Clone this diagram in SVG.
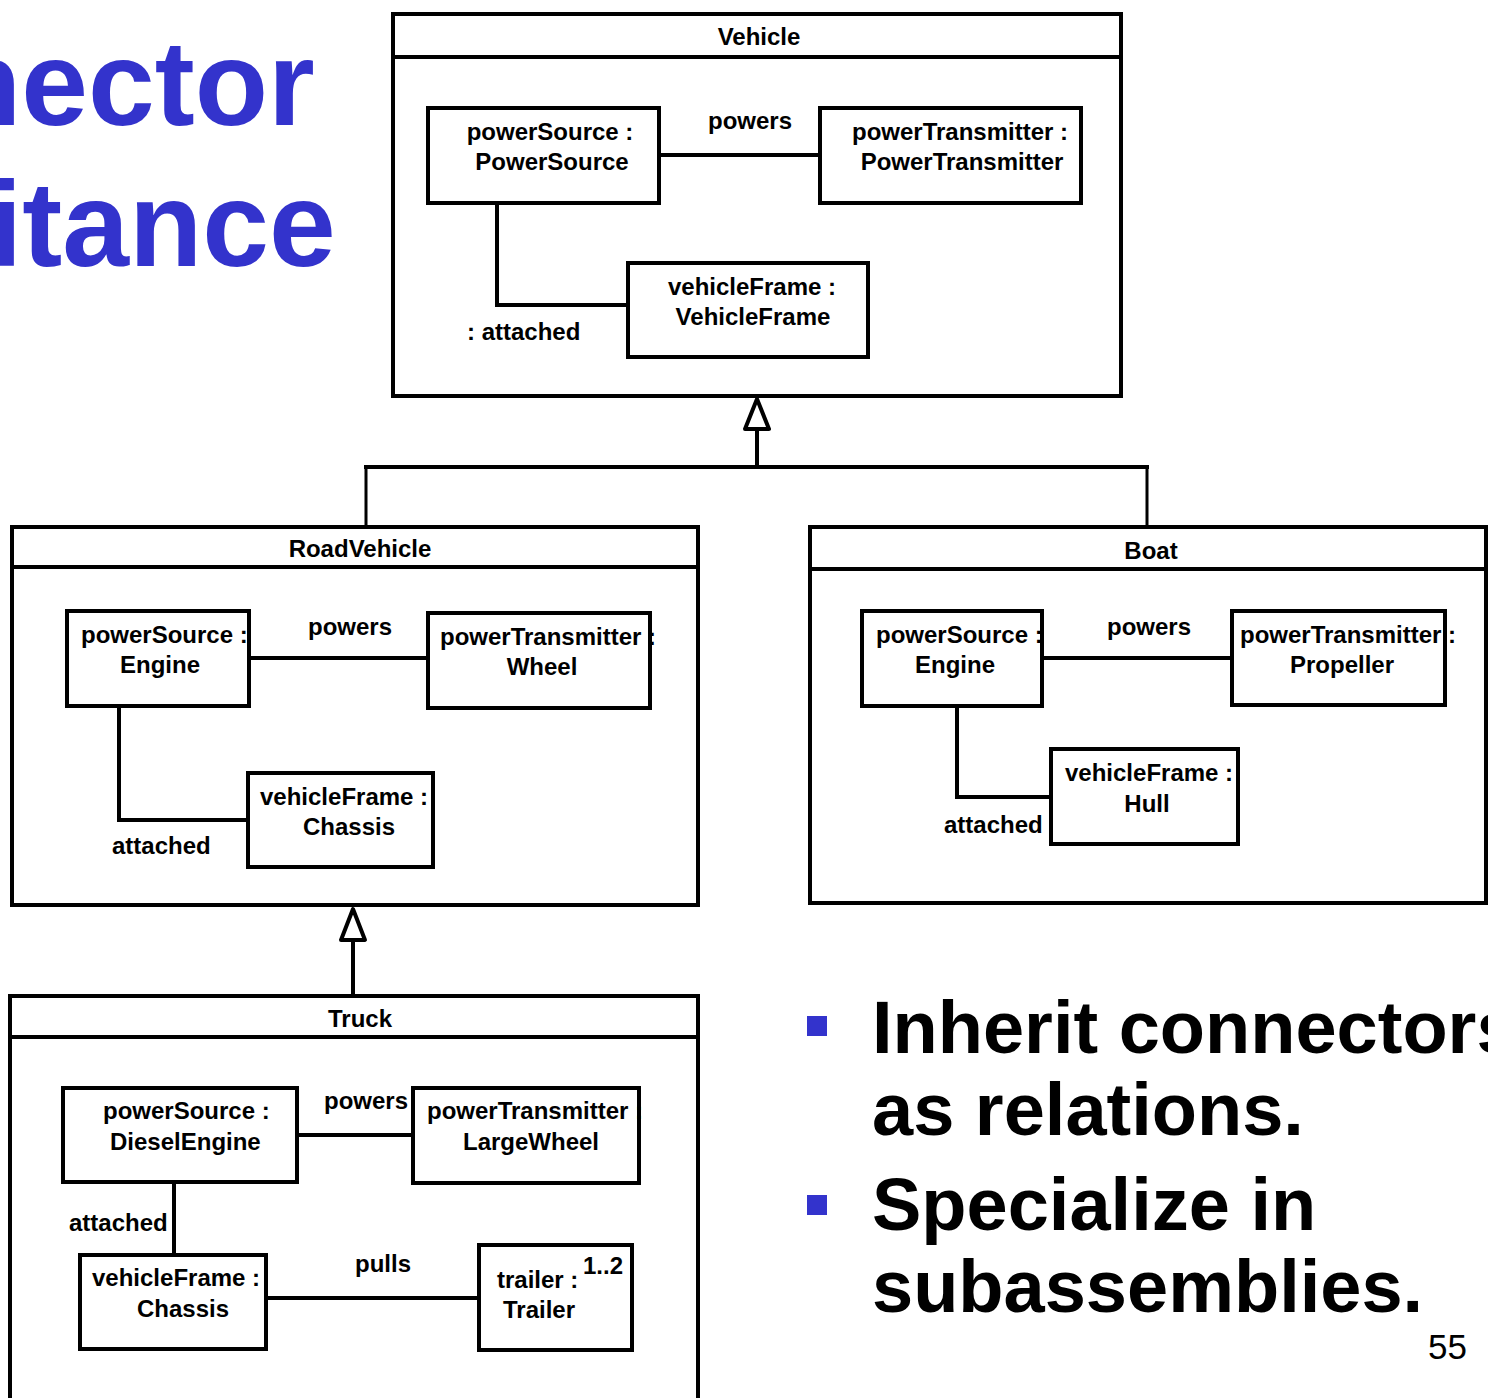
<svg xmlns="http://www.w3.org/2000/svg" width="1488" height="1398" viewBox="0 0 1488 1398">
  <style>
    .title { font-family: "Liberation Sans", Arial, sans-serif; font-weight: bold; font-size: 120px; fill: #3333CC; }
    .lbl { font-family: "Liberation Sans", Arial, sans-serif; font-weight: bold; font-size: 24px; fill: #000; }
    .mid { text-anchor: middle; }
    .frame { fill: #fff; stroke: #000; stroke-width: 4; }
    .part { fill: #fff; stroke: #000; stroke-width: 4; }
    .sep { stroke: #000; stroke-width: 4; }
    .conn { fill: none; stroke: #000; stroke-width: 4; }
    .tree { fill: none; stroke: #000; stroke-width: 3; }
    .gen { fill: #fff; stroke: #000; stroke-width: 4; stroke-linejoin: round; }
    .bullet { font-family: "Liberation Sans", Arial, sans-serif; font-weight: bold; font-size: 74px; fill: #000; }
    .pg { font-family: "Liberation Sans", Arial, sans-serif; font-size: 35px; fill: #000; }
  </style>
  <rect width="1488" height="1398" fill="#fff"/>

  <!-- slide heading (partly off the left edge) -->
  <g id="heading">
    <text class="title" x="-52" y="125">nector</text>
    <text class="title" x="-11" y="266">itance</text>
  </g>

  <!-- Vehicle -->
  <g id="vehicle">
    <rect class="frame" x="393" y="14" width="728" height="382"/>
    <line class="sep" x1="393" y1="57" x2="1121" y2="57"/>
    <text class="lbl mid" x="759" y="45">Vehicle</text>
  </g>
  <g id="vehicle-powerSource">
    <rect class="part" x="428" y="108" width="231" height="95"/>
    <text class="lbl mid" x="550" y="140">powerSource :</text>
    <text class="lbl mid" x="552" y="170">PowerSource</text>
  </g>
  <g id="vehicle-powerTransmitter">
    <rect class="part" x="820" y="108" width="261" height="95"/>
    <text class="lbl mid" x="960" y="140">powerTransmitter :</text>
    <text class="lbl mid" x="962" y="170">PowerTransmitter</text>
  </g>
  <g id="vehicle-vehicleFrame">
    <rect class="part" x="628" y="263" width="240" height="94"/>
    <text class="lbl mid" x="752" y="295">vehicleFrame :</text>
    <text class="lbl mid" x="753" y="325">VehicleFrame</text>
  </g>

  <!-- RoadVehicle -->
  <g id="roadVehicle">
    <rect class="frame" x="12" y="527" width="686" height="378"/>
    <line class="sep" x1="12" y1="567" x2="698" y2="567"/>
    <text class="lbl mid" x="360" y="557">RoadVehicle</text>
  </g>
  <g id="road-powerSource">
    <rect class="part" x="67" y="611" width="182" height="95"/>
    <text class="lbl" x="81" y="643">powerSource :</text>
    <text class="lbl mid" x="160" y="673">Engine</text>
  </g>
  <g id="road-powerTransmitter">
    <rect class="part" x="428" y="613" width="222" height="95"/>
    <text class="lbl" x="440" y="645">powerTransmitter :</text>
    <text class="lbl mid" x="542" y="675">Wheel</text>
  </g>
  <g id="road-vehicleFrame">
    <rect class="part" x="248" y="773" width="185" height="94"/>
    <text class="lbl" x="260" y="805">vehicleFrame :</text>
    <text class="lbl mid" x="349" y="835">Chassis</text>
  </g>

  <!-- Boat -->
  <g id="boat">
    <rect class="frame" x="810" y="527" width="676" height="376"/>
    <line class="sep" x1="810" y1="569" x2="1486" y2="569"/>
    <text class="lbl mid" x="1151" y="559">Boat</text>
  </g>
  <g id="boat-powerSource">
    <rect class="part" x="862" y="611" width="180" height="95"/>
    <text class="lbl" x="876" y="643">powerSource :</text>
    <text class="lbl mid" x="955" y="673">Engine</text>
  </g>
  <g id="boat-powerTransmitter">
    <rect class="part" x="1232" y="611" width="213" height="94"/>
    <text class="lbl" x="1240" y="643">powerTransmitter :</text>
    <text class="lbl mid" x="1342" y="673">Propeller</text>
  </g>
  <g id="boat-vehicleFrame">
    <rect class="part" x="1051" y="749" width="187" height="95"/>
    <text class="lbl" x="1065" y="781">vehicleFrame :</text>
    <text class="lbl mid" x="1147" y="812">Hull</text>
  </g>

  <!-- Truck (runs past the bottom edge) -->
  <g id="truck">
    <rect class="frame" x="10" y="996" width="688" height="430"/>
    <line class="sep" x1="10" y1="1037" x2="698" y2="1037"/>
    <text class="lbl mid" x="360" y="1027">Truck</text>
  </g>
  <g id="truck-powerSource">
    <rect class="part" x="63" y="1088" width="234" height="94"/>
    <text class="lbl" x="103" y="1119">powerSource :</text>
    <text class="lbl" x="110" y="1150">DieselEngine</text>
  </g>
  <g id="truck-powerTransmitter">
    <rect class="part" x="413" y="1088" width="226" height="95"/>
    <text class="lbl" x="427" y="1119">powerTransmitter :</text>
    <text class="lbl" x="463" y="1150">LargeWheel</text>
  </g>
  <g id="truck-vehicleFrame">
    <rect class="part" x="80" y="1255" width="186" height="94"/>
    <text class="lbl" x="92" y="1286">vehicleFrame :</text>
    <text class="lbl" x="137" y="1317">Chassis</text>
  </g>
  <g id="truck-trailer">
    <rect class="part" x="479" y="1245" width="153" height="105"/>
    <text class="lbl" x="497" y="1288">trailer :</text>
    <text class="lbl" x="503" y="1318">Trailer</text>
    <text class="lbl" x="583" y="1274">1..2</text>
  </g>

  <!-- connectors and generalizations -->
  <g id="connectors">
    <!-- Vehicle -->
    <path class="conn" d="M659,155 H820"/>
    <text class="lbl mid" x="750" y="129">powers</text>
    <path class="conn" d="M497,203 V305 H628"/>
    <text class="lbl" x="467" y="340">: attached</text>

    <!-- RoadVehicle -->
    <path class="conn" d="M249,658 H428"/>
    <text class="lbl mid" x="350" y="635">powers</text>
    <path class="conn" d="M119,706 V820 H248"/>
    <text class="lbl" x="112" y="854">attached</text>

    <!-- Boat -->
    <path class="conn" d="M1042,658 H1232"/>
    <text class="lbl mid" x="1149" y="635">powers</text>
    <path class="conn" d="M957,706 V797 H1051"/>
    <text class="lbl" x="944" y="833">attached</text>

    <!-- Truck -->
    <path class="conn" d="M297,1135 H413"/>
    <text class="lbl" x="324" y="1109">powers</text>
    <path class="conn" d="M174,1182 V1255"/>
    <text class="lbl" x="69" y="1231">attached</text>
    <path class="conn" d="M266,1298 H479"/>
    <text class="lbl" x="355" y="1272">pulls</text>

    <!-- RoadVehicle, Boat specialize Vehicle -->
    <path class="tree" d="M366,527 V467 M1147,527 V467"/>
    <path class="conn" d="M364,467 H1149 M757,467 V429"/>
    <polygon class="gen" points="757,399 769,429 745,429"/>

    <!-- Truck specializes RoadVehicle -->
    <path class="conn" d="M353,996 V940"/>
    <polygon class="gen" points="353,909 365,940 341,940"/>
  </g>

  <!-- bullet list -->
  <g id="bullets">
    <rect x="807" y="1016" width="20" height="20" fill="#3333CC"/>
    <rect x="807" y="1195" width="20" height="20" fill="#3333CC"/>
    <text class="bullet" x="872" y="1053">Inherit connectors</text>
    <text class="bullet" x="872" y="1135">as relations.</text>
    <text class="bullet" x="872" y="1230">Specialize in</text>
    <text class="bullet" x="872" y="1312">subassemblies.</text>
    <text class="pg" x="1428" y="1359">55</text>
  </g>
</svg>
